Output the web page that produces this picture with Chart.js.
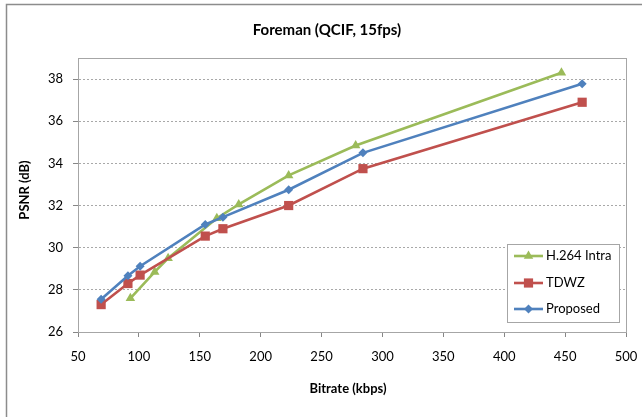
<!DOCTYPE html>
<html>
<head>
<meta charset="utf-8">
<script src="https://cdn.jsdelivr.net/npm/chart.js@4"></script>
<style>
  html, body { margin: 0; padding: 0; background: #fff; }
  #wrap { width: 642px; height: 417px; position: relative; }
</style>
</head>
<body>
<div id="wrap"><canvas id="rdChart" width="642" height="417"></canvas></div>
<script>
// bitrate (kbps) and PSNR (dB)
const h264Rate = [93, 113, 124, 164, 182, 223, 278, 447];
const h264Psnr = [27.6, 28.85, 29.5, 31.4, 32.05, 33.43, 34.85, 38.3];
const tdwzRate = [69, 91, 101, 154.5, 169, 223, 284, 464];
const tdwzPsnr = [27.3, 28.3, 28.7, 30.55, 30.9, 32.0, 33.75, 36.9];
const propRate = [69, 91, 101, 154.5, 169, 223, 284, 464];
const propPsnr = [27.55, 28.67, 29.12, 31.1, 31.45, 32.75, 34.5, 37.78];

const seriesNames = ['H.264 Intra', 'TDWZ', 'Proposed'];
const seriesColors = ['#9BBB59', '#C0504D', '#4F81BD'];
const seriesMarkers = ['triangle', 'rect', 'rectRot'];
const markerSizes = [5.5, 6.5, 4.5];

const xTicks = [50, 100, 150, 200, 250, 300, 350, 400, 450, 500];
const yTicks = [26, 28, 30, 32, 34, 36, 38];

const FONT = 'Lato, "Open Sans", sans-serif';

function toPoints(xs, ys) {
    return xs.map(function (x, i) { return { x: x, y: ys[i] }; });
}

const allRates = [h264Rate, tdwzRate, propRate];
const allPsnr = [h264Psnr, tdwzPsnr, propPsnr];

let datasets = seriesNames.map(function (name, i) {
    return {
        label: name,
        data: toPoints(allRates[i], allPsnr[i]),
        showLine: true,
        borderColor: seriesColors[i],
        backgroundColor: seriesColors[i],
        borderWidth: 2.6,
        pointStyle: seriesMarkers[i],
        pointRadius: markerSizes[i],
        pointBorderWidth: 0,
        order: 2 - i
    };
});

// frame, title, axis titles and the legend box
const decorations = {
    id: 'decorations',
    afterDraw: function (chart) {
        const c = chart.ctx;
        const a = chart.chartArea;
        c.save();
        // outer frame
        c.strokeStyle = '#8C8C8C';
        c.lineWidth = 1.5;
        c.beginPath();
        c.moveTo(6.5, 417);
        c.lineTo(6.5, 4.5);
        c.lineTo(642, 4.5);
        c.stroke();
        // plot area border
        c.strokeStyle = '#A6A6A6';
        c.lineWidth = 1;
        c.strokeRect(Math.round(a.left) + 0.5, Math.round(a.top) + 0.5,
            Math.round(a.right - a.left), Math.round(a.bottom - a.top));

        c.fillStyle = '#000';
        c.textAlign = 'center';
        c.textBaseline = 'middle';
        c.font = 'bold 15px ' + FONT;
        c.fillText('Foreman (QCIF, 15fps)', 327, 30);
        c.font = 'bold 13px ' + FONT;
        c.fillText('Bitrate (kbps)', 348, 389);
        c.translate(25, 190);
        c.rotate(-Math.PI / 2);
        c.fillText('PSNR (dB)', 0, 0);
        c.restore();

        // legend
        c.save();
        c.fillStyle = '#fff';
        c.fillRect(507, 244, 112, 78);
        c.strokeStyle = '#A6A6A6';
        c.lineWidth = 1;
        c.strokeRect(507.5, 244.5, 112, 78);
        const rows = [256, 283, 309];
        seriesNames.forEach(function (name, i) {
            const y = rows[i];
            c.strokeStyle = seriesColors[i];
            c.lineWidth = 2.6;
            c.beginPath();
            c.moveTo(514, y);
            c.lineTo(543, y);
            c.stroke();
            c.fillStyle = seriesColors[i];
            Chart.helpers.drawPoint(c, { pointStyle: seriesMarkers[i], radius: markerSizes[i], borderWidth: 0 }, 528.5, y);
            c.fillStyle = '#000';
            c.font = '13px ' + FONT;
            c.textAlign = 'left';
            c.textBaseline = 'middle';
            c.fillText(name, 546, y);
        });
        c.restore();
    }
};

const ctx = document.getElementById('rdChart').getContext('2d');
const chart = new Chart(ctx, {
    type: 'scatter',
    data: { datasets: datasets },
    options: {
        responsive: false,
        animation: false,
        layout: { padding: { left: 0, top: 58, right: 16, bottom: 0 } },
        plugins: {
            legend: { display: false },
            title: { display: false },
            tooltip: { enabled: false }
        },
        scales: {
            x: {
                type: 'linear',
                min: xTicks[0],
                max: xTicks[xTicks.length - 1],
                afterBuildTicks: function (scale) {
                    scale.ticks = xTicks.map(function (v) { return { value: v }; });
                },
                afterFit: function (scale) {
                    scale.height = 85;
                    scale.paddingLeft = 0;
                    scale.paddingRight = 0;
                },
                grid: {
                    drawOnChartArea: false,
                    drawTicks: true,
                    tickLength: 5,
                    tickColor: '#868686',
                    color: '#868686'
                },
                border: { color: '#868686', width: 1 },
                ticks: { color: '#000', padding: 12, maxRotation: 0, font: { family: FONT, size: 13 } }
            },
            y: {
                type: 'linear',
                min: 26,
                max: 39,
                afterBuildTicks: function (scale) {
                    scale.ticks = yTicks.map(function (v) { return { value: v }; });
                },
                afterFit: function (scale) {
                    scale.width = 78;
                    scale.paddingTop = 0;
                    scale.paddingBottom = 0;
                },
                grid: {
                    drawOnChartArea: true,
                    drawTicks: true,
                    tickLength: 5,
                    color: '#A8A8A8',
                    tickColor: '#868686',
                    tickBorderDash: []
                },
                border: { color: '#868686', width: 1, dash: [2, 2] },
                ticks: { color: '#000', padding: 10, font: { family: FONT, size: 13 } }
            }
        }
    },
    plugins: [decorations]
});
</script>
</body>
</html>
